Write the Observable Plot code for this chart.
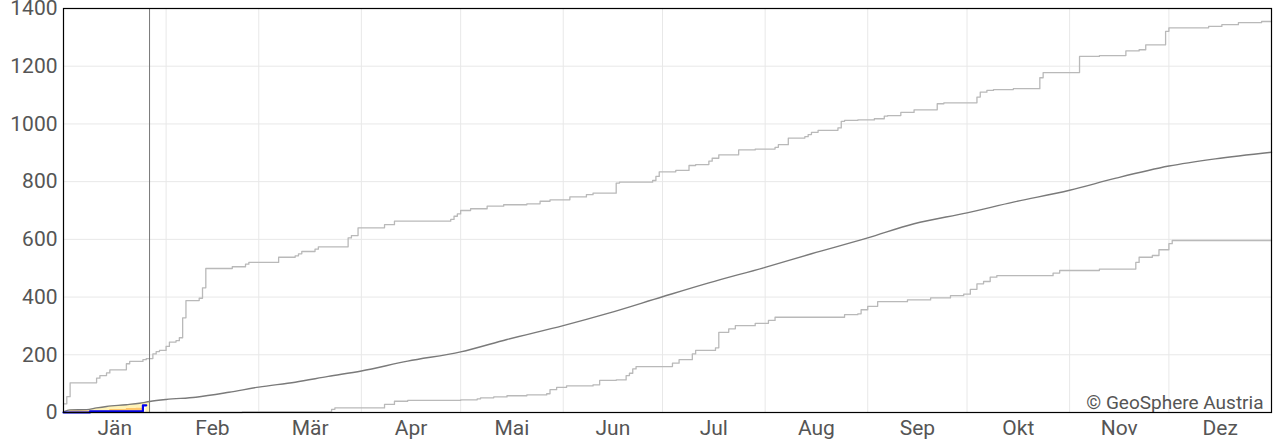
<!DOCTYPE html>
<html>
<head>
<meta charset="utf-8">
<script src="https://cdn.jsdelivr.net/npm/d3@7"></script>
<script src="https://cdn.jsdelivr.net/npm/@observablehq/plot@0.6"></script>
<style>
  html, body { margin: 0; padding: 0; background: #fff; }
  #chart svg { display: block; font-family: Roboto, "DejaVu Sans", sans-serif; }
</style>
</head>
<body>
<div id="chart"></div>
<script>
// ---- Data (day of year, cumulative precipitation in mm) ----
const monthNames = ["Jän","Feb","Mär","Apr","Mai","Jun","Jul","Aug","Sep","Okt","Nov","Dez"];
const monthStarts = [0,31,59,90,120,151,181,212,243,273,304,334,365];
const yTicks = [0,200,400,600,800,1000,1200,1400];
const todayDay = 26;
const creditText = "© GeoSphere Austria";

const maxDays = [0,1,2,10,11,13,14,19,20,24,25,27,28,29,31,32,34,35,36,37,41,42,43,51,55,56,65,70,71,72,76,77,86,87,89,97,100,117,118,119,120,123,128,133,140,144,147,153,158,160,167,168,178,179,180,185,189,191,195,196,198,204,209,215,216,219,224,225,226,228,234,235,236,240,245,248,249,253,257,264,266,276,277,279,281,287,295,296,307,313,321,325,327,333,334,346,350,355,362,365];
const maxValues = [30,55,103,119,128,137,148,169,177,183,187,203,211,215,229,244,249,259,328,388,396,432,499,505,514,520,538,543,550,558,566,574,605,613,640,651,663,669,680,688,700,706,715,720,723,732,737,747,755,760,795,798,804,818,834,839,856,859,871,881,893,910,913,919,928,951,956,963,971,978,986,1009,1012,1014,1018,1027,1029,1040,1049,1070,1073,1093,1110,1116,1119,1122,1160,1178,1234,1237,1253,1257,1274,1321,1333,1338,1344,1351,1355,1355];

const minDays = [0,54,81,82,97,100,104,120,125,126,130,134,140,146,147,149,152,160,162,167,170,171,172,173,184,186,190,191,197,198,201,203,209,213,215,236,240,241,243,246,255,262,268,272,274,276,278,280,282,299,301,313,324,325,329,331,334,335,365];
const minValues = [0,2,11,16,28,39,42,44,47,51,54,58,61,65,79,87,92,96,111,113,128,136,151,159,171,183,203,215,224,278,290,301,309,319,330,339,342,356,368,384,390,397,405,410,427,446,454,469,474,483,492,497,520,538,544,564,585,596,598];

const meanDays = [0,2,7,10,13,19,23,26,31,40,50,59,70,80,90,104,120,134,151,165,181,195,212,226,243,257,273,287,304,318,334,348,365];
const meanValues = [2,9,10,16,21,27,32,38,45,53,70,88,105,125,144,178,210,253,301,345,401,449,503,550,605,654,692,729,770,812,854,879,902];

const lowDays = [0,2,8,14,19,22,25];
const lowValues = [0,5,5,10,14,15,16];

const currentDays = [0,8,24,25];
const currentValues = [0,4,25,25];

// ---- Build tables ----
const zip = (xs, ys) => xs.map((d, i) => ({day: d, value: ys[i]}));
const maxData = zip(maxDays, maxValues);
const minData = zip(minDays, minValues);
const meanData = zip(meanDays, meanValues);
const meanEarly = meanData.filter(d => d.day <= todayDay);
const lowData = zip(lowDays, lowValues);
const currentData = zip(currentDays, currentValues);
const labelPos = monthNames.map((m, i) => (monthStarts[i] + monthStarts[i + 1]) / 2);

const chart = Plot.plot({
  width: 1280,
  height: 448,
  marginLeft: 63,
  marginRight: 9,
  marginTop: 8,
  marginBottom: 36,
  style: {fontFamily: "Roboto, 'DejaVu Sans', sans-serif", background: "#fff"},
  x: {domain: [0, 365]},
  y: {domain: [0, 1400]},
  marks: [
    Plot.gridY(yTicks, {stroke: "#e8e8e8", strokeOpacity: 1, strokeWidth: 1}),
    Plot.gridX(monthStarts.slice(1, 12), {stroke: "#e8e8e8", strokeOpacity: 1, strokeWidth: 1}),
    Plot.areaY(meanEarly, {x: "day", y: "value", fill: "#fff3b8", curve: "monotone-x"}),
    Plot.areaY(lowData, {x: "day", y: "value", fill: "#ffc66b", curve: "step-after"}),
    Plot.areaY(currentData, {x: "day", y: "value", fill: "#ffffff", curve: "step-after"}),
    Plot.lineY(maxData, {x: "day", y: "value", stroke: "#b9b9b9", strokeWidth: 1.3, curve: "step-after"}),
    Plot.lineY(minData, {x: "day", y: "value", stroke: "#b9b9b9", strokeWidth: 1.3, curve: "step-after"}),
    Plot.lineY(meanData, {x: "day", y: "value", stroke: "#7a7a7a", strokeWidth: 1.4, curve: "monotone-x"}),
    Plot.lineY(currentData, {x: "day", y: "value", stroke: "#0000ee", strokeWidth: 2.2, curve: "step-after"}),
    Plot.ruleX([todayDay], {stroke: "#777", strokeWidth: 1}),
    Plot.axisY(yTicks, {tickSize: 0, tickPadding: 6, fontSize: 21, fill: "#555", label: null,
      tickFormat: d => String(d)}),
    Plot.axisX(labelPos, {tickSize: 0, tickPadding: 8, fontSize: 21, fill: "#555", label: null,
      tickFormat: (d, i) => monthNames[i]}),
    Plot.text([creditText], {frameAnchor: "bottom-right", dx: -8, dy: -4, fontSize: 19, fill: "#555", text: d => d}),
    Plot.frame({stroke: "#000", strokeWidth: 1.2})
  ]
});
document.getElementById("chart").append(chart);
</script>
</body>
</html>
